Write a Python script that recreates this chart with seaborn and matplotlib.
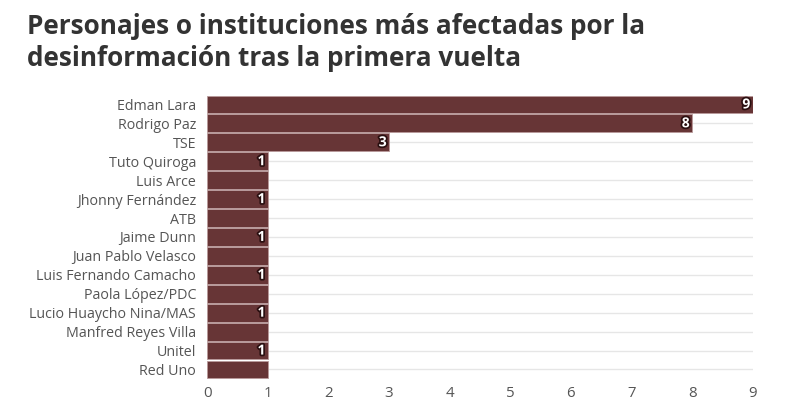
import matplotlib
matplotlib.use("Agg")
import matplotlib.pyplot as plt
import matplotlib.patheffects as pe
import seaborn as sns
import pandas as pd

names = ["Edman Lara", "Rodrigo Paz", "TSE", "Tuto Quiroga", "Luis Arce",
         "Jhonny Fernández", "ATB", "Jaime Dunn", "Juan Pablo Velasco",
         "Luis Fernando Camacho", "Paola López/PDC", "Lucio Huaycho Nina/MAS",
         "Manfred Reyes Villa", "Unitel", "Red Uno"]
values = [9, 8, 3, 1, 1, 1, 1, 1, 1, 1, 1, 1, 1, 1, 1]
show_label = [True, True, True, True, False, True, False, True, False,
              True, False, True, False, True, False]
xticks = [0, 1, 2, 3, 4, 5, 6, 7, 8, 9]
title = "Personajes o instituciones más afectadas por la\ndesinformación tras la primera vuelta"

df = pd.DataFrame({"name": names, "value": values})

sns.set_style("white")
plt.rcParams["font.family"] = ["Open Sans", "DejaVu Sans"]

fig = plt.figure(figsize=(8, 4.04), dpi=100)
ax = fig.add_axes([0.259, 0.062, 0.682, 0.703])

sns.barplot(data=df, x="value", y="name", orient="h", color="#673536",
            saturation=1, width=0.94, edgecolor="#b89a9a", linewidth=0.6,
            ax=ax, zorder=2)

for i in range(len(names)):
    ax.axhline(i, color="#e6e6e6", lw=1, zorder=0)

for i, (v, s) in enumerate(zip(values, show_label)):
    if s:
        ax.text(v - 0.04, i, str(v), ha="right", va="center", color="white",
                fontsize=10, fontweight="bold", zorder=3,
                path_effects=[pe.withStroke(linewidth=2.5, foreground="#2a0f10")])

ax.set_xlim(0, 9)
ax.set_ylim(14.5, -0.5)
ax.set_xticks(xticks)
ax.set_xticklabels([str(t) for t in xticks])
ax.set_xlabel("")
ax.set_ylabel("")
for sp in ax.spines.values():
    sp.set_visible(False)
ax.tick_params(axis="y", length=0, labelsize=10.3, labelcolor="#555555", pad=8)
ax.tick_params(axis="x", length=0, labelsize=10.8, labelcolor="#555555", pad=5)

fig.text(0.034, 0.968, title, ha="left", va="top", fontsize=18.8,
         fontweight="bold", color="#333333", linespacing=1.22)

fig.savefig("out.png", dpi=100)
